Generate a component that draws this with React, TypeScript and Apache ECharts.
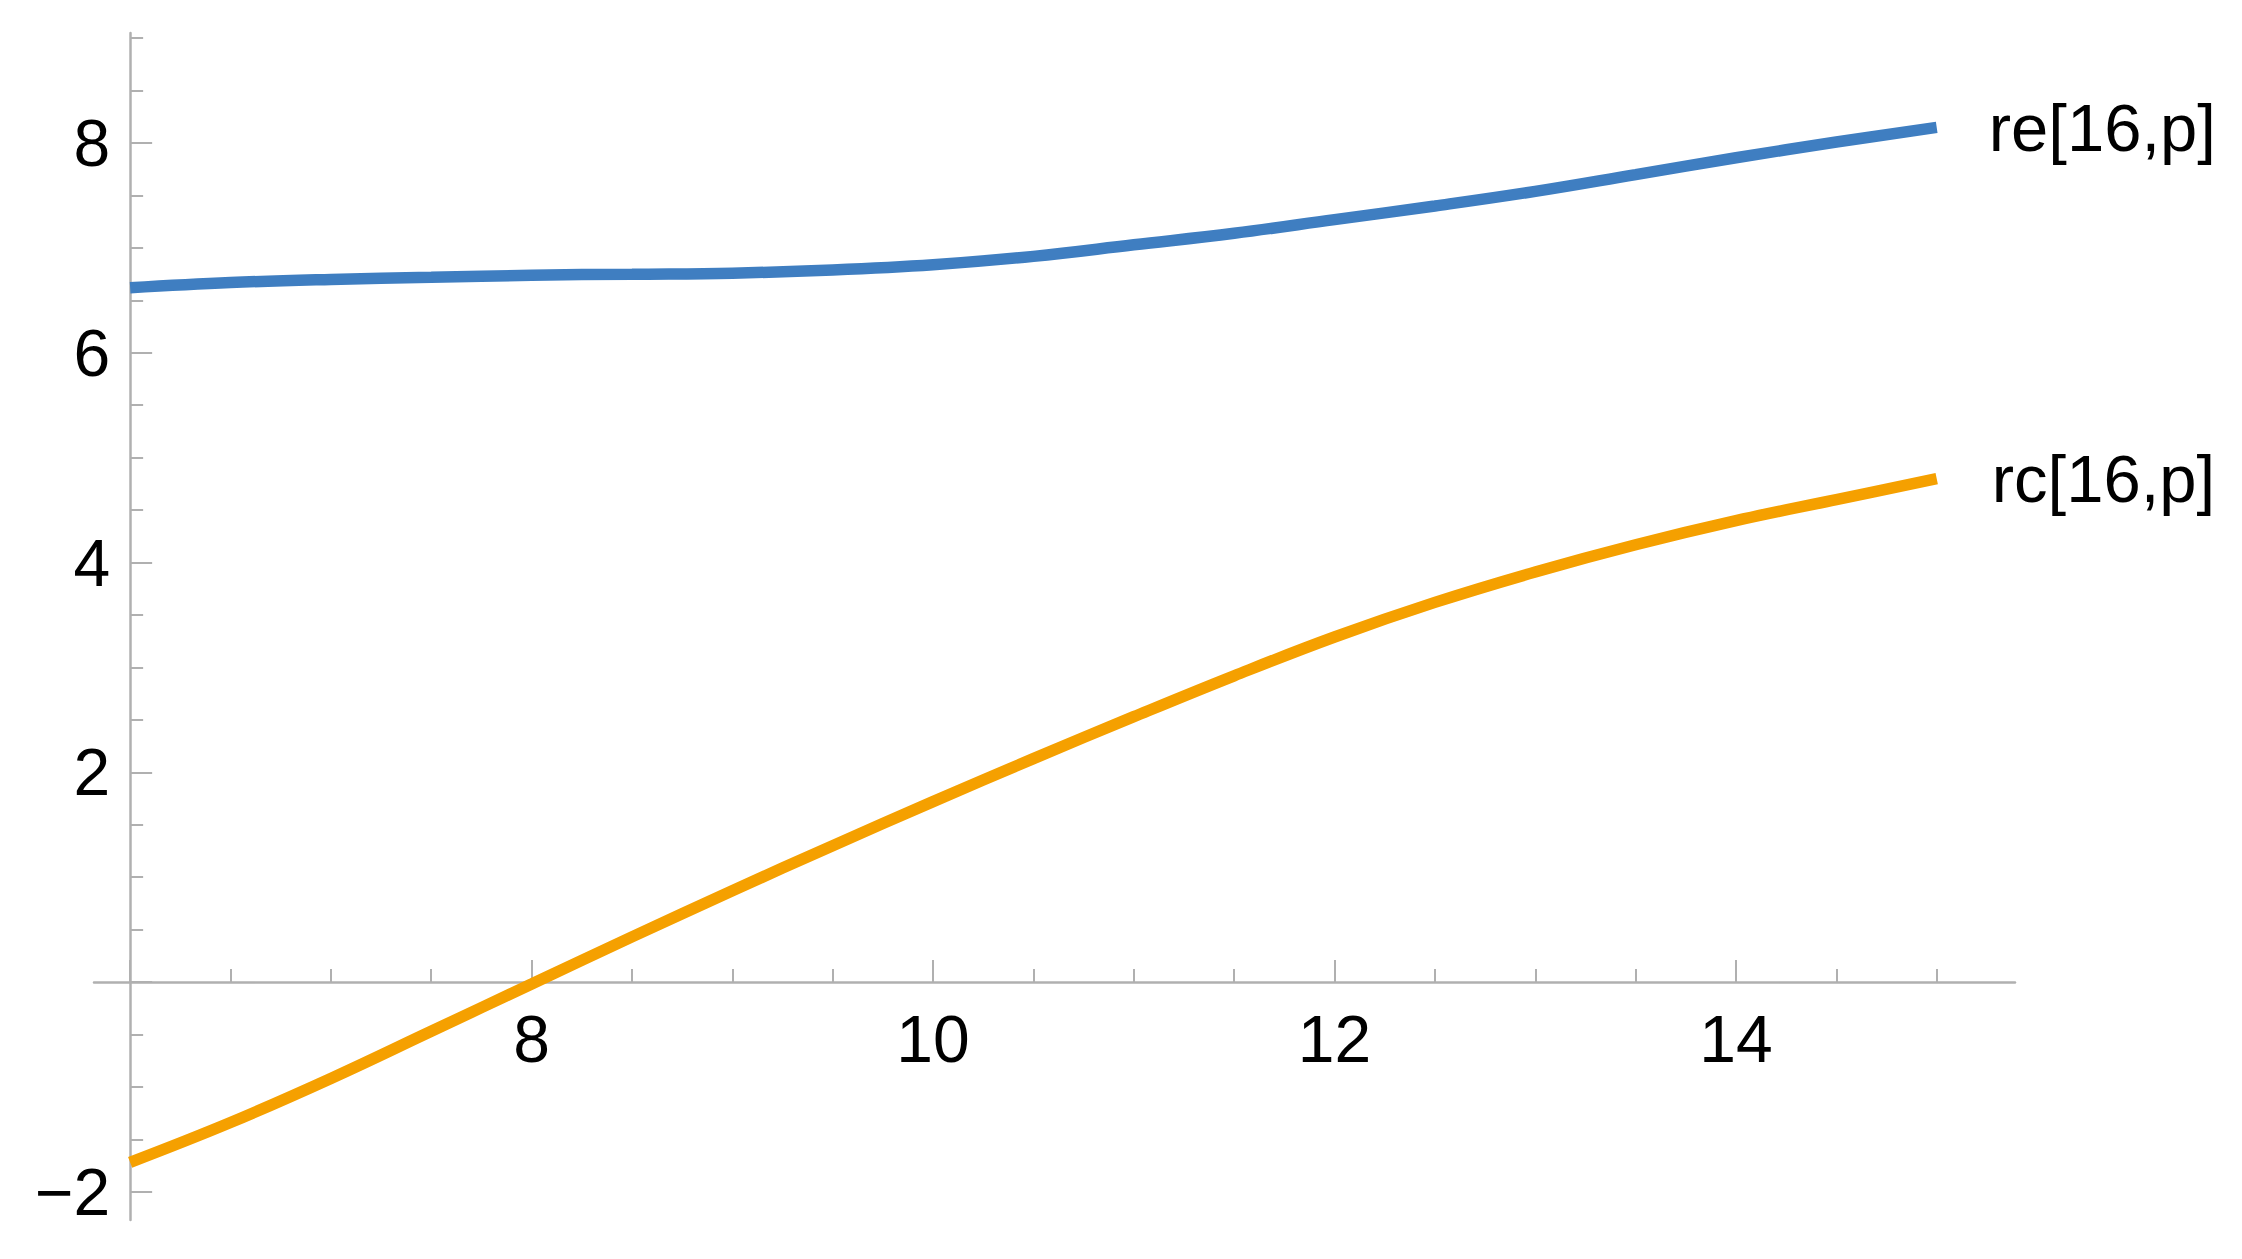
import React, { useEffect, useRef } from "react";
import * as echarts from "echarts";

// Sample positions (p)
const pValues = [6, 6.5, 7, 7.5, 8, 8.5, 9, 9.5, 10, 10.5, 11, 11.5, 12, 12.5, 13, 13.5, 14, 14.5, 15];
// re[16,p]
const reValues = [6.62, 6.67, 6.70, 6.72, 6.74, 6.75, 6.76, 6.79, 6.84, 6.92, 7.03, 7.14, 7.27, 7.40, 7.54, 7.70, 7.86, 8.01, 8.15];
// rc[16,p]
const rcValues = [-1.72, -1.34, -0.92, -0.47, -0.02, 0.43, 0.87, 1.30, 1.72, 2.13, 2.53, 2.92, 3.29, 3.62, 3.91, 4.17, 4.40, 4.60, 4.80];

const seriesNames = ["re[16,p]", "rc[16,p]"];

// Axis ranges and ticks
const xRange = [5.82, 15.39];
const yRange = [-2.27, 9.05];
const xMajorTicks = [6, 8, 10, 12, 14];
const xMinorTicks = [6.5, 7, 7.5, 8.5, 9, 9.5, 10.5, 11, 11.5, 12.5, 13, 13.5, 14.5, 15];
const xTickLabels = [8, 10, 12, 14];
const yMajorTicks = [-2, 0, 2, 4, 6, 8];
const yMinorTicks = [-1.5, -1, -0.5, 0.5, 1, 1.5, 2.5, 3, 3.5, 4.5, 5, 5.5, 6.5, 7, 7.5, 8.5, 9];
const yTickLabels = [-2, 2, 4, 6, 8];

const FONT = "'Liberation Sans', Arial, sans-serif";
const AXIS_GRAY = "#b0b0b0";

// layout (pixels)
const GRID_LEFT = 94;
const GRID_RIGHT = 227;
const GRID_TOP = 33;
const GRID_BOTTOM = 39;
const CHART_W = 2242;
const CHART_H = 1259;

export default function App() {
  const ref = useRef<HTMLDivElement>(null);

  useEffect(() => {
    if (!ref.current) return;
    const chart = echarts.init(ref.current, null, { renderer: "svg" });

    const fmt = (v: number) => (v < 0 ? "\u2212" + String(-v) : String(v));

    // pixel offsets so that the axes cross at (6, 0), like the original
    const gridH = CHART_H - GRID_TOP - GRID_BOTTOM;
    const pxPerY = gridH / (yRange[1] - yRange[0]);
    const xAxisOffset = -(0 - yRange[0]) * pxPerY;
    const gridW = CHART_W - GRID_LEFT - GRID_RIGHT;
    const pxPerX = gridW / (xRange[1] - xRange[0]);
    const yAxisOffset = -(6 - xRange[0]) * pxPerX;

    const baseX = {
      type: "value",
      min: xRange[0],
      max: xRange[1],
      position: "bottom",
      offset: xAxisOffset,
      splitLine: { show: false },
    };
    const baseY = {
      type: "value",
      min: yRange[0],
      max: yRange[1],
      position: "left",
      offset: yAxisOffset,
      splitLine: { show: false },
    };

    const option: any = {
      animation: false,
      backgroundColor: "#ffffff",
      grid: {
        left: GRID_LEFT,
        right: GRID_RIGHT,
        top: GRID_TOP,
        bottom: GRID_BOTTOM,
        containLabel: false,
        outerBoundsMode: "none",
      },
      xAxis: [
        {
          ...baseX,
          axisLine: { show: true, onZero: false, lineStyle: { color: AXIS_GRAY, width: 2.5 } },
          axisTick: {
            show: true,
            inside: true,
            length: 22,
            customValues: xMajorTicks,
            lineStyle: { color: AXIS_GRAY, width: 2 },
          },
          axisLabel: {
            show: true,
            customValues: xTickLabels,
            margin: 24,
            fontSize: 66,
            fontFamily: FONT,
            color: "#000",
            formatter: (v: number) => fmt(v),
          },
        },
        {
          ...baseX,
          axisLine: { show: false, onZero: false },
          axisTick: {
            show: true,
            inside: true,
            length: 13,
            customValues: xMinorTicks,
            lineStyle: { color: AXIS_GRAY, width: 2 },
          },
          axisLabel: { show: false },
        },
      ],
      yAxis: [
        {
          ...baseY,
          axisLine: { show: true, onZero: false, lineStyle: { color: AXIS_GRAY, width: 2.5 } },
          axisTick: {
            show: true,
            inside: true,
            length: 22,
            customValues: yMajorTicks,
            lineStyle: { color: AXIS_GRAY, width: 2 },
          },
          axisLabel: {
            show: true,
            customValues: yTickLabels,
            margin: 20,
            fontSize: 66,
            fontFamily: FONT,
            color: "#000",
            formatter: (v: number) => fmt(v),
          },
        },
        {
          ...baseY,
          axisLine: { show: false, onZero: false },
          axisTick: {
            show: true,
            inside: true,
            length: 13,
            customValues: yMinorTicks,
            lineStyle: { color: AXIS_GRAY, width: 2 },
          },
          axisLabel: { show: false },
        },
      ],
      series: [
        {
          name: seriesNames[0],
          type: "line",
          xAxisIndex: 0,
          yAxisIndex: 0,
          data: pValues.map((p, i) => [p, reValues[i]]),
          smooth: 0.4,
          showSymbol: false,
          clip: false,
          lineStyle: { color: "#3F7EC1", width: 11.5, cap: "butt" },
          itemStyle: { color: "#3F7EC1" },
          endLabel: {
            show: true,
            formatter: seriesNames[0],
            distance: 52,
            fontSize: 67,
            fontFamily: FONT,
            color: "#000",
          },
        },
        {
          name: seriesNames[1],
          type: "line",
          xAxisIndex: 0,
          yAxisIndex: 0,
          data: pValues.map((p, i) => [p, rcValues[i]]),
          smooth: 0.4,
          showSymbol: false,
          clip: false,
          lineStyle: { color: "#F5A000", width: 11.5, cap: "butt" },
          itemStyle: { color: "#F5A000" },
          endLabel: {
            show: true,
            formatter: seriesNames[1],
            distance: 55,
            fontSize: 67,
            fontFamily: FONT,
            color: "#000",
          },
        },
      ],
    };

    chart.setOption(option);
    return () => chart.dispose();
  }, []);

  return (
    <div
      ref={ref}
      style={{ position: "absolute", left: 0, top: 0, width: CHART_W, height: CHART_H }}
    />
  );
}
